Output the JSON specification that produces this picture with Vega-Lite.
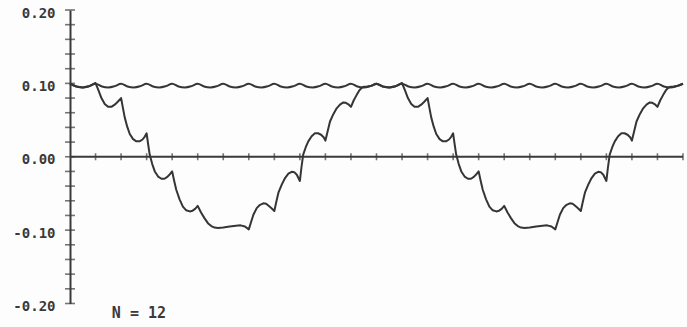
{
  "$schema": "https://vega.github.io/schema/vega-lite/v6.json",
  "width": 613,
  "height": 293.5,
  "autosize": {"type": "none"},
  "padding": {"left": 70, "top": 10, "right": 4, "bottom": 23.5},
  "background": "#fdfdfd",
  "config": {"view": {"stroke": null}, "font": "DejaVu Sans Mono"},
  "datasets": {
    "lower": [
      {"x":0,"y":0.0995},{"x":0.25,"y":0.0958},{"x":0.5,"y":0.0945},{"x":0.75,"y":0.0962},
      {"x":1,"y":0.1005},{"x":1.12,"y":0.09},{"x":1.23,"y":0.08},{"x":1.36,"y":0.072},{"x":1.49,"y":0.068},{"x":1.62,"y":0.068},{"x":1.75,"y":0.071},{"x":1.87,"y":0.075},
      {"x":2,"y":0.08},{"x":2.07,"y":0.067},{"x":2.14,"y":0.054},{"x":2.24,"y":0.041},{"x":2.34,"y":0.031},{"x":2.47,"y":0.024},{"x":2.6,"y":0.021},{"x":2.72,"y":0.021},{"x":2.84,"y":0.0235},{"x":2.93,"y":0.0275},
      {"x":3,"y":0.032},{"x":3.06,"y":0.017},{"x":3.12,"y":0.003},{"x":3.22,"y":-0.01},{"x":3.32,"y":-0.02},{"x":3.45,"y":-0.027},{"x":3.58,"y":-0.03},{"x":3.7,"y":-0.03},{"x":3.81,"y":-0.0275},{"x":3.92,"y":-0.0235},
      {"x":4,"y":-0.02},{"x":4.08,"y":-0.033},{"x":4.16,"y":-0.045},{"x":4.29,"y":-0.058},{"x":4.42,"y":-0.068},{"x":4.55,"y":-0.073},{"x":4.69,"y":-0.0745},{"x":4.8,"y":-0.0735},{"x":4.9,"y":-0.071},
      {"x":5,"y":-0.067},{"x":5.13,"y":-0.076},{"x":5.27,"y":-0.084},{"x":5.4,"y":-0.0905},{"x":5.53,"y":-0.0945},{"x":5.66,"y":-0.0965},{"x":5.8,"y":-0.097},
      {"x":6,"y":-0.0965},{"x":6.25,"y":-0.0952},{"x":6.5,"y":-0.094},{"x":6.68,"y":-0.0935},{"x":6.85,"y":-0.095},
      {"x":7,"y":-0.099},{"x":7.09,"y":-0.089},{"x":7.18,"y":-0.079},{"x":7.31,"y":-0.07},{"x":7.44,"y":-0.0655},{"x":7.57,"y":-0.0635},{"x":7.68,"y":-0.064},{"x":7.8,"y":-0.0675},{"x":7.9,"y":-0.0705},
      {"x":8,"y":-0.074},{"x":8.08,"y":-0.061},{"x":8.16,"y":-0.049},{"x":8.29,"y":-0.038},{"x":8.42,"y":-0.029},{"x":8.55,"y":-0.023},{"x":8.68,"y":-0.0205},{"x":8.78,"y":-0.021},{"x":8.88,"y":-0.0245},
      {"x":9,"y":-0.033},{"x":9.06,"y":-0.015},{"x":9.13,"y":0.003},{"x":9.23,"y":0.013},{"x":9.33,"y":0.021},{"x":9.46,"y":0.028},{"x":9.59,"y":0.032},{"x":9.71,"y":0.032},{"x":9.83,"y":0.03},{"x":9.93,"y":0.0265},
      {"x":10,"y":0.022},{"x":10.09,"y":0.035},{"x":10.18,"y":0.048},{"x":10.31,"y":0.058},{"x":10.44,"y":0.066},{"x":10.57,"y":0.071},{"x":10.7,"y":0.074},{"x":10.8,"y":0.0735},{"x":10.9,"y":0.0715},
      {"x":11,"y":0.068},{"x":11.11,"y":0.077},{"x":11.22,"y":0.084},{"x":11.32,"y":0.09},{"x":11.42,"y":0.094},{"x":11.52,"y":0.0955},{"x":11.65,"y":0.0958},{"x":11.8,"y":0.0968},
      {"x":12,"y":0.0995},{"x":12.25,"y":0.0958},{"x":12.5,"y":0.0945},{"x":12.75,"y":0.0962},
      {"x":13,"y":0.1005},{"x":13.12,"y":0.09},{"x":13.23,"y":0.08},{"x":13.36,"y":0.072},{"x":13.49,"y":0.068},{"x":13.62,"y":0.068},{"x":13.75,"y":0.071},{"x":13.87,"y":0.075},
      {"x":14,"y":0.08},{"x":14.07,"y":0.067},{"x":14.14,"y":0.054},{"x":14.24,"y":0.041},{"x":14.34,"y":0.031},{"x":14.47,"y":0.024},{"x":14.6,"y":0.021},{"x":14.72,"y":0.021},{"x":14.84,"y":0.0235},{"x":14.93,"y":0.0275},
      {"x":15,"y":0.032},{"x":15.06,"y":0.017},{"x":15.12,"y":0.003},{"x":15.22,"y":-0.01},{"x":15.32,"y":-0.02},{"x":15.45,"y":-0.027},{"x":15.58,"y":-0.03},{"x":15.7,"y":-0.03},{"x":15.81,"y":-0.0275},{"x":15.92,"y":-0.0235},
      {"x":16,"y":-0.02},{"x":16.08,"y":-0.033},{"x":16.16,"y":-0.045},{"x":16.29,"y":-0.058},{"x":16.42,"y":-0.068},{"x":16.55,"y":-0.073},{"x":16.69,"y":-0.0745},{"x":16.8,"y":-0.0735},{"x":16.9,"y":-0.071},
      {"x":17,"y":-0.067},{"x":17.13,"y":-0.076},{"x":17.27,"y":-0.084},{"x":17.4,"y":-0.0905},{"x":17.53,"y":-0.0945},{"x":17.66,"y":-0.0965},{"x":17.8,"y":-0.097},
      {"x":18,"y":-0.0965},{"x":18.25,"y":-0.0952},{"x":18.5,"y":-0.094},{"x":18.68,"y":-0.0935},{"x":18.85,"y":-0.095},
      {"x":19,"y":-0.099},{"x":19.09,"y":-0.089},{"x":19.18,"y":-0.079},{"x":19.31,"y":-0.07},{"x":19.44,"y":-0.0655},{"x":19.57,"y":-0.0635},{"x":19.68,"y":-0.064},{"x":19.8,"y":-0.0675},{"x":19.9,"y":-0.0705},
      {"x":20,"y":-0.074},{"x":20.08,"y":-0.061},{"x":20.16,"y":-0.049},{"x":20.29,"y":-0.038},{"x":20.42,"y":-0.029},{"x":20.55,"y":-0.023},{"x":20.68,"y":-0.0205},{"x":20.78,"y":-0.021},{"x":20.88,"y":-0.0245},
      {"x":21,"y":-0.033},{"x":21.06,"y":-0.015},{"x":21.13,"y":0.003},{"x":21.23,"y":0.013},{"x":21.33,"y":0.021},{"x":21.46,"y":0.028},{"x":21.59,"y":0.032},{"x":21.71,"y":0.032},{"x":21.83,"y":0.03},{"x":21.93,"y":0.0265},
      {"x":22,"y":0.022},{"x":22.09,"y":0.035},{"x":22.18,"y":0.048},{"x":22.31,"y":0.058},{"x":22.44,"y":0.066},{"x":22.57,"y":0.071},{"x":22.7,"y":0.074},{"x":22.8,"y":0.0735},{"x":22.9,"y":0.0715},
      {"x":23,"y":0.068},{"x":23.11,"y":0.077},{"x":23.22,"y":0.084},{"x":23.32,"y":0.09},{"x":23.42,"y":0.094},{"x":23.52,"y":0.0955},{"x":23.65,"y":0.0958},{"x":23.8,"y":0.0968},
      {"x":24,"y":0.0995}
    ],
    "upper": [
      {"x":0,"y":0.0995},{"x":0.25,"y":0.0958},{"x":0.5,"y":0.0945},{"x":0.75,"y":0.0962},
      {"x":1,"y":0.0995},{"x":1.25,"y":0.0958},{"x":1.5,"y":0.0945},{"x":1.75,"y":0.0962},
      {"x":2,"y":0.0995},{"x":2.25,"y":0.0958},{"x":2.5,"y":0.0945},{"x":2.75,"y":0.0962},
      {"x":3,"y":0.0995},{"x":3.25,"y":0.0958},{"x":3.5,"y":0.0945},{"x":3.75,"y":0.0962},
      {"x":4,"y":0.0995},{"x":4.25,"y":0.0958},{"x":4.5,"y":0.0945},{"x":4.75,"y":0.0962},
      {"x":5,"y":0.0995},{"x":5.25,"y":0.0958},{"x":5.5,"y":0.0945},{"x":5.75,"y":0.0962},
      {"x":6,"y":0.0995},{"x":6.25,"y":0.0958},{"x":6.5,"y":0.0945},{"x":6.75,"y":0.0962},
      {"x":7,"y":0.0995},{"x":7.25,"y":0.0958},{"x":7.5,"y":0.0945},{"x":7.75,"y":0.0962},
      {"x":8,"y":0.0995},{"x":8.25,"y":0.0958},{"x":8.5,"y":0.0945},{"x":8.75,"y":0.0962},
      {"x":9,"y":0.0995},{"x":9.25,"y":0.0958},{"x":9.5,"y":0.0945},{"x":9.75,"y":0.0962},
      {"x":10,"y":0.0995},{"x":10.25,"y":0.0958},{"x":10.5,"y":0.0945},{"x":10.75,"y":0.0962},
      {"x":11,"y":0.0995},{"x":11.25,"y":0.0958},{"x":11.5,"y":0.0945},{"x":11.75,"y":0.0962},
      {"x":12,"y":0.0995},{"x":12.25,"y":0.0958},{"x":12.5,"y":0.0945},{"x":12.75,"y":0.0962},
      {"x":13,"y":0.0995},{"x":13.25,"y":0.0958},{"x":13.5,"y":0.0945},{"x":13.75,"y":0.0962},
      {"x":14,"y":0.0995},{"x":14.25,"y":0.0958},{"x":14.5,"y":0.0945},{"x":14.75,"y":0.0962},
      {"x":15,"y":0.0995},{"x":15.25,"y":0.0958},{"x":15.5,"y":0.0945},{"x":15.75,"y":0.0962},
      {"x":16,"y":0.0995},{"x":16.25,"y":0.0958},{"x":16.5,"y":0.0945},{"x":16.75,"y":0.0962},
      {"x":17,"y":0.0995},{"x":17.25,"y":0.0958},{"x":17.5,"y":0.0945},{"x":17.75,"y":0.0962},
      {"x":18,"y":0.0995},{"x":18.25,"y":0.0958},{"x":18.5,"y":0.0945},{"x":18.75,"y":0.0962},
      {"x":19,"y":0.0995},{"x":19.25,"y":0.0958},{"x":19.5,"y":0.0945},{"x":19.75,"y":0.0962},
      {"x":20,"y":0.0995},{"x":20.25,"y":0.0958},{"x":20.5,"y":0.0945},{"x":20.75,"y":0.0962},
      {"x":21,"y":0.0995},{"x":21.25,"y":0.0958},{"x":21.5,"y":0.0945},{"x":21.75,"y":0.0962},
      {"x":22,"y":0.0995},{"x":22.25,"y":0.0958},{"x":22.5,"y":0.0945},{"x":22.75,"y":0.0962},
      {"x":23,"y":0.0995},{"x":23.25,"y":0.0958},{"x":23.5,"y":0.0945},{"x":23.75,"y":0.0962},
      {"x":24,"y":0.0995}
    ],
    "yticks": [
      {"x":0,"y":-0.2},{"x":0,"y":-0.18},{"x":0,"y":-0.16},{"x":0,"y":-0.14},{"x":0,"y":-0.12},
      {"x":0,"y":-0.1},{"x":0,"y":-0.08},{"x":0,"y":-0.06},{"x":0,"y":-0.04},{"x":0,"y":-0.02},
      {"x":0,"y":0},{"x":0,"y":0.02},{"x":0,"y":0.04},{"x":0,"y":0.06},{"x":0,"y":0.08},
      {"x":0,"y":0.1},{"x":0,"y":0.12},{"x":0,"y":0.14},{"x":0,"y":0.16},{"x":0,"y":0.18},{"x":0,"y":0.2}
    ],
    "xticks": [
      {"x":1,"y":0},{"x":2,"y":0},{"x":3,"y":0},{"x":4,"y":0},{"x":5,"y":0},{"x":6,"y":0},
      {"x":7,"y":0},{"x":8,"y":0},{"x":9,"y":0},{"x":10,"y":0},{"x":11,"y":0},{"x":12,"y":0},
      {"x":13,"y":0},{"x":14,"y":0},{"x":15,"y":0},{"x":16,"y":0},{"x":17,"y":0},{"x":18,"y":0},
      {"x":19,"y":0},{"x":20,"y":0},{"x":21,"y":0},{"x":22,"y":0},{"x":23,"y":0},{"x":24,"y":0}
    ],
    "note": [{"label": "N = 12", "x": 2.7, "y": -0.2136}]
  },
  "layer": [
    {
      "data": {"name": "yticks"},
      "mark": {"type": "tick", "orient": "horizontal", "size": 10, "thickness": 1.6, "color": "#3a3a3a"},
      "encoding": {
        "x": {"field": "x", "type": "quantitative", "scale": {"domain": [0, 24], "nice": false, "zero": false}, "axis": null},
        "y": {"field": "y", "type": "quantitative", "scale": {"domain": [-0.2, 0.2], "nice": false, "zero": false},
          "axis": {"title": null, "values": [-0.2, -0.1, 0, 0.1, 0.2], "labelExpr": "replace(format(datum.value, '.2f'), '\u2212', '-')",
            "ticks": false, "tickSize": 0, "labelPadding": 15, "labelOffset": 3, "domain": true, "domainColor": "#3a3a3a", "domainWidth": 2,
            "grid": false, "labelFont": "DejaVu Sans Mono", "labelFontWeight": "bold", "labelFontSize": 14, "labelColor": "#3a3a3a"}}
      }
    },
    {
      "data": {"values": [{"y": 0}]},
      "mark": {"type": "rule", "color": "#3a3a3a", "strokeWidth": 2},
      "encoding": {"y": {"field": "y", "type": "quantitative", "scale": {"domain": [-0.2, 0.2], "nice": false, "zero": false}}}
    },
    {
      "data": {"name": "xticks"},
      "mark": {"type": "tick", "orient": "vertical", "size": 7, "thickness": 1.6, "color": "#3a3a3a"},
      "encoding": {
        "x": {"field": "x", "type": "quantitative", "scale": {"domain": [0, 24], "nice": false, "zero": false}},
        "y": {"field": "y", "type": "quantitative", "scale": {"domain": [-0.2, 0.2], "nice": false, "zero": false}}
      }
    },
    {
      "data": {"name": "upper"},
      "mark": {"type": "line", "color": "#353535", "strokeWidth": 2, "interpolate": "monotone"},
      "encoding": {
        "x": {"field": "x", "type": "quantitative", "scale": {"domain": [0, 24], "nice": false, "zero": false}},
        "y": {"field": "y", "type": "quantitative", "scale": {"domain": [-0.2, 0.2], "nice": false, "zero": false}}
      }
    },
    {
      "data": {"name": "lower"},
      "mark": {"type": "line", "color": "#353535", "strokeWidth": 2, "interpolate": "linear", "strokeJoin": "round"},
      "encoding": {
        "x": {"field": "x", "type": "quantitative", "scale": {"domain": [0, 24], "nice": false, "zero": false}},
        "y": {"field": "y", "type": "quantitative", "scale": {"domain": [-0.2, 0.2], "nice": false, "zero": false}}
      }
    },
    {
      "data": {"name": "note"},
      "mark": {"type": "text", "font": "DejaVu Sans Mono", "fontWeight": "bold", "fontSize": 15, "color": "#3a3a3a", "align": "center", "baseline": "middle"},
      "encoding": {
        "x": {"field": "x", "type": "quantitative", "scale": {"domain": [0, 24], "nice": false, "zero": false}},
        "y": {"field": "y", "type": "quantitative", "scale": {"domain": [-0.2, 0.2], "nice": false, "zero": false}},
        "text": {"field": "label", "type": "nominal"}
      }
    }
  ]
}
